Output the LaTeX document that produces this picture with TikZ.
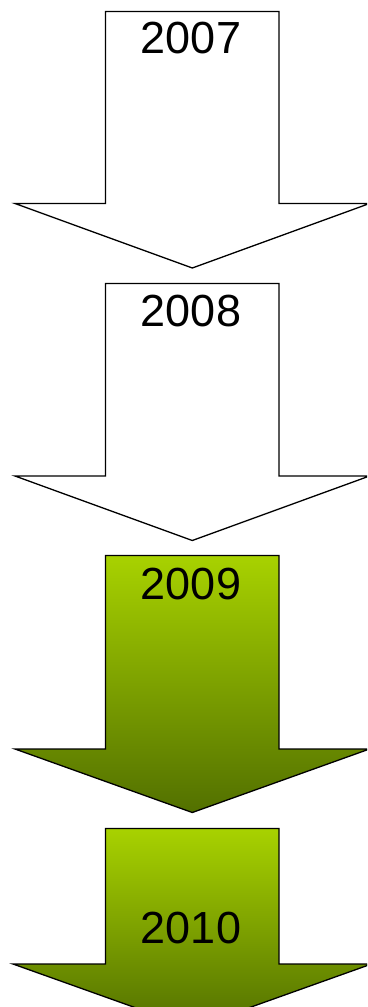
\documentclass[tikz,border=0pt]{standalone}
\usepackage{fontspec}
\setmainfont{Liberation Sans}
\usetikzlibrary{positioning}
\definecolor{limetop}{RGB}{168,210,0}
\definecolor{olivebottom}{RGB}{82,112,0}

\begin{document}
\begin{tikzpicture}[x=1pt,y=1pt]
                \tikzstyle{every node}+=[inner sep=0pt, font=\fontsize{45}{54}\selectfont]
                \tikzstyle{plain arrow}=[draw=black, line width=1.3pt, fill=white]
                \tikzstyle{green arrow}=[draw=black, line width=1.3pt, top color=limetop, bottom color=olivebottom]
                \useasboundingbox (0,0) rectangle (367,-1007);
                \clip (0,0) rectangle (367,-1007);
                % 2007
                \draw [plain arrow] (105.5,-11.5) -- (279,-11.5) -- (279,-203.5) -- (369.5,-203.5) -- (192.3,-268) -- (15,-203.5) -- (105.5,-203.5) -- cycle;
                \node (y2007) at (191,-38) {2007};
                % 2008
                \draw [plain arrow] (105.5,-283.5) -- (279,-283.5) -- (279,-476) -- (369.5,-476) -- (192.3,-540.5) -- (15,-476) -- (105.5,-476) -- cycle;
                \node (y2008) at (191,-311) {2008};
                % 2009
                \draw [green arrow] (105.5,-555.5) -- (279,-555.5) -- (279,-749) -- (369.5,-749) -- (192.3,-812.5) -- (15,-749) -- (105.5,-749) -- cycle;
                \node (y2009) at (191,-584) {2009};
                % 2010
                \draw [green arrow] (105.5,-828.5) -- (279,-828.5) -- (279,-964) -- (371.5,-964) -- (192.3,-1028) -- (13,-964) -- (105.5,-964) -- cycle;
                \node (y2010) at (191,-928) {2010};
\end{tikzpicture}
\end{document}
